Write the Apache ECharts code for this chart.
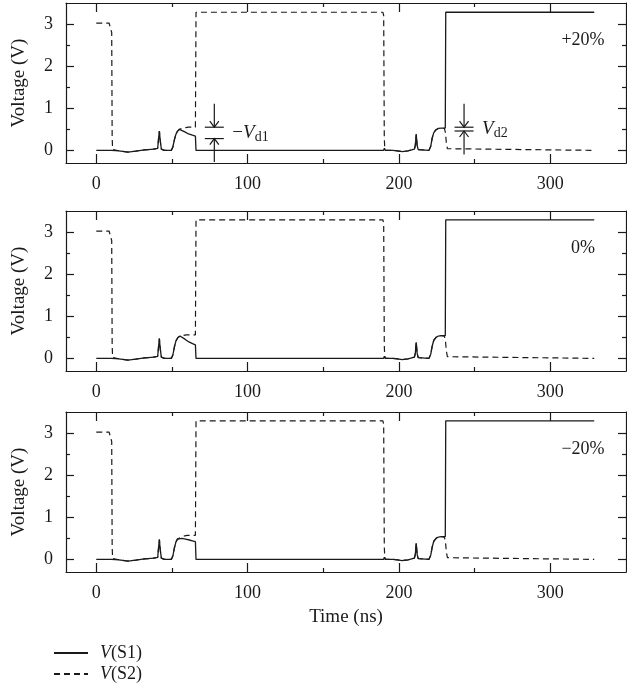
<!DOCTYPE html>
<html>
<head>
<meta charset="utf-8">
<script src="https://cdn.jsdelivr.net/npm/echarts@6/dist/echarts.min.js"></script>
<style>
  html, body { margin: 0; padding: 0; background: #fff; }
  #chart { width: 627px; height: 694px; }
</style>
</head>
<body>
<div id="chart"></div>
<script>
// Switch voltages V(S1) and V(S2) for three parameter variations (+20 %, 0 %, -20 %).
// Each trace is a list of [time (ns), voltage (V)] samples.

const S1_PLUS20 = [[0,0],[10,0],[15,-0.01],[21,-0.04],[26,-0.02],[32,0.01],[38,0.03],[40.6,0.05],[41.2,0.3],[41.7,0.46],[42.2,0.25],[43,0.03],[45,0],[49.6,0],[50.6,0.08],[51.6,0.25],[52.6,0.38],[53.6,0.45],[54.9,0.5],[56.2,0.49],[58.5,0.44],[61,0.39],[63.5,0.36],[65.5,0.34],[65.9,0],[189.8,0],[190.4,0.05],[191,0],[196,0],[199,-0.01],[202,-0.03],[206,-0.01],[210.2,0.03],[210.8,0.12],[211.4,0.38],[212,0.12],[212.7,0.02],[214,0],[219.8,0],[221,0.1],[222,0.3],[223,0.42],[224.5,0.49],[226,0.52],[228,0.53],[230.6,0.53],[230.9,3.28],[329,3.28]];
const S2_PLUS20 = [[0,3.02],[8.5,3.02],[9.6,2.98],[10.2,2.8],[10.5,0.3],[10.8,0.02],[11.5,0],[15,-0.01],[21,-0.04],[26,-0.02],[32,0.01],[38,0.03],[40.6,0.05],[41.2,0.3],[41.7,0.46],[42.2,0.25],[43,0.03],[45,0],[49.6,0],[50.6,0.08],[51.6,0.25],[52.6,0.38],[53.6,0.45],[54.9,0.5],[56.5,0.52],[59,0.54],[61,0.55],[65.5,0.55],[65.9,3.28],[189.4,3.28],[189.9,3.2],[190.3,0.3],[190.6,0.05],[191,0],[196,0],[199,-0.01],[202,-0.03],[206,-0.01],[210.2,0.03],[210.8,0.12],[211.4,0.38],[212,0.12],[212.7,0.02],[214,0],[219.8,0],[221,0.1],[222,0.3],[223,0.42],[224.5,0.49],[226,0.52],[228,0.53],[230,0.52],[230.7,0.42],[231.3,0.18],[232,0.04],[233,0],[329,0]];

const S1_ZERO = [[0,0],[10,0],[15,-0.01],[21,-0.04],[26,-0.02],[32,0.01],[38,0.03],[40.6,0.05],[41.2,0.3],[41.7,0.47],[42.2,0.25],[43,0.03],[45,0],[49.6,0],[50.6,0.08],[51.6,0.27],[52.6,0.41],[53.8,0.49],[55.3,0.53],[56.6,0.51],[58.8,0.45],[61.2,0.39],[63.6,0.35],[65.5,0.32],[65.9,0],[189.8,0],[190.4,0.05],[191,0],[196,0],[199,-0.01],[202,-0.03],[206,-0.01],[210.2,0.03],[210.8,0.12],[211.4,0.38],[212,0.12],[212.7,0.02],[214,0],[219.8,0],[221,0.1],[222,0.3],[223,0.43],[224.5,0.5],[226,0.53],[228,0.54],[230.6,0.54],[230.9,3.29],[329,3.29]];
const S2_ZERO = [[0,3.02],[8.5,3.02],[9.6,2.98],[10.2,2.8],[10.5,0.3],[10.8,0.02],[11.5,0],[15,-0.01],[21,-0.04],[26,-0.02],[32,0.01],[38,0.03],[40.6,0.05],[41.2,0.3],[41.7,0.47],[42.2,0.25],[43,0.03],[45,0],[49.6,0],[50.6,0.08],[51.6,0.27],[52.6,0.41],[53.8,0.49],[55.3,0.53],[57,0.54],[59.5,0.56],[61,0.56],[65.5,0.56],[65.9,3.29],[189.4,3.29],[189.9,3.2],[190.3,0.3],[190.6,0.05],[191,0],[196,0],[199,-0.01],[202,-0.03],[206,-0.01],[210.2,0.03],[210.8,0.12],[211.4,0.38],[212,0.12],[212.7,0.02],[214,0],[219.8,0],[221,0.1],[222,0.3],[223,0.43],[224.5,0.5],[226,0.53],[228,0.54],[230,0.53],[230.7,0.42],[231.3,0.18],[232,0.04],[233,0],[329,0]];

const S1_MINUS20 = [[0,0],[10,0],[15,-0.01],[21,-0.04],[26,-0.02],[32,0.01],[38,0.03],[40.6,0.05],[41.2,0.3],[41.7,0.47],[42.2,0.25],[43,0.03],[45,0],[49.6,0],[50.6,0.08],[51.6,0.27],[52.6,0.41],[53.6,0.48],[54.6,0.51],[56.5,0.5],[59,0.48],[61.5,0.46],[63.5,0.44],[65.5,0.42],[65.9,0],[189.8,0],[190.4,0.05],[191,0],[196,0],[199,-0.01],[202,-0.03],[206,-0.01],[210.2,0.03],[210.8,0.12],[211.4,0.38],[212,0.12],[212.7,0.02],[214,0],[219.8,0],[221,0.1],[222,0.3],[223,0.43],[224.5,0.5],[226,0.53],[228,0.54],[230.6,0.54],[230.9,3.29],[329,3.29]];
const S2_MINUS20 = [[0,3.02],[8.5,3.02],[9.6,2.98],[10.2,2.8],[10.5,0.3],[10.8,0.02],[11.5,0],[15,-0.01],[21,-0.04],[26,-0.02],[32,0.01],[38,0.03],[40.6,0.05],[41.2,0.3],[41.7,0.47],[42.2,0.25],[43,0.03],[45,0],[49.6,0],[50.6,0.08],[51.6,0.27],[52.6,0.41],[53.6,0.48],[54.6,0.51],[56.5,0.53],[58.5,0.56],[60,0.57],[65.5,0.57],[65.9,3.29],[189.4,3.29],[189.9,3.2],[190.3,0.3],[190.6,0.05],[191,0],[196,0],[199,-0.01],[202,-0.03],[206,-0.01],[210.2,0.03],[210.8,0.12],[211.4,0.38],[212,0.12],[212.7,0.02],[214,0],[219.8,0],[221,0.1],[222,0.3],[223,0.43],[224.5,0.5],[226,0.53],[228,0.54],[230,0.53],[230.7,0.42],[231.3,0.18],[232,0.04],[233,0],[329,0]];

// Panel captions and the traces drawn in each panel (top to bottom)
const PANEL_LABELS = ['+20%', '0%', '\u221220%'];
const PANEL_S1 = [S1_PLUS20, S1_ZERO, S1_MINUS20];
const PANEL_S2 = [S2_PLUS20, S2_ZERO, S2_MINUS20];

// Tick positions
const X_MAJOR = [0, 100, 200, 300];
const X_MINOR = [50, 150, 250];
const Y_MAJOR = [0, 1, 2, 3];
const Y_MINOR = [0.5, 1.5, 2.5];

// Dimension markers in the top panel: time, lower level, upper level, label parts
const MARKER_T = [78, 243];
const MARKER_LOW = [0.28, 0.46];
const MARKER_HIGH = [0.55, 0.55];
const MARKER_SIGN = ['\u2212', ''];
const MARKER_SUB = ['d1', 'd2'];

const FONT = '"Liberation Serif", "DejaVu Serif", serif';
const INK = '#1a1a1a';
const X_MIN = -20, X_MAX = 350, Y_MIN = -0.3, Y_MAX = 3.5;
const GRID_TOPS = [3, 211, 412];
const GRID_H = 160;

const chart = echarts.init(document.getElementById('chart'), null, { renderer: 'canvas' });

const grids = [], xAxes = [], yAxes = [], series = [], graphics = [];

function makeX(grid, position, ticks, len, showLine, showLabel, extra) {
  return Object.assign({
    type: 'value', gridIndex: grid, position: position, min: X_MIN, max: X_MAX,
    axisLine: { show: showLine, onZero: false, lineStyle: { color: INK, width: 1.2 } },
    axisTick: { show: true, inside: true, length: len, customValues: ticks, lineStyle: { color: INK, width: 1.2 } },
    axisLabel: { show: showLabel, customValues: X_MAJOR, margin: 12, color: INK, fontFamily: FONT, fontSize: 18 },
    splitLine: { show: false }
  }, extra || {});
}
function makeY(grid, position, ticks, len, showLine, showLabel, extra) {
  return Object.assign({
    type: 'value', gridIndex: grid, position: position, min: Y_MIN, max: Y_MAX,
    axisLine: { show: showLine, onZero: false, lineStyle: { color: INK, width: 1.2 } },
    axisTick: { show: true, inside: true, length: len, customValues: ticks, lineStyle: { color: INK, width: 1.2 } },
    axisLabel: { show: showLabel, customValues: Y_MAJOR, margin: 13, color: INK, fontFamily: FONT, fontSize: 18 },
    splitLine: { show: false }
  }, extra || {});
}

PANEL_S1.forEach(function (s1, i) {
  grids.push({ left: 66, right: 1, top: GRID_TOPS[i], height: GRID_H });
  const isLast = i === PANEL_S1.length - 1;
  const xName = isLast ? {
    name: 'Time (ns)', nameLocation: 'middle', nameGap: 36,
    nameTextStyle: { fontFamily: FONT, fontSize: 19, color: INK }
  } : {};
  xAxes.push(makeX(i, 'bottom', X_MAJOR, 9, true, true, xName));
  xAxes.push(makeX(i, 'bottom', X_MINOR, 4, false, false));
  xAxes.push(makeX(i, 'top', X_MAJOR, 9, true, false));
  xAxes.push(makeX(i, 'top', X_MINOR, 4, false, false));

  yAxes.push(makeY(i, 'left', Y_MAJOR, 8, true, true, {
    name: 'Voltage (V)', nameLocation: 'middle', nameGap: 37,
    nameTextStyle: { fontFamily: FONT, fontSize: 19, color: INK }
  }));
  yAxes.push(makeY(i, 'left', Y_MINOR, 4, false, false));
  yAxes.push(makeY(i, 'right', Y_MAJOR, 8, true, false));
  yAxes.push(makeY(i, 'right', Y_MINOR, 4, false, false));

  const ax = i * 4;
  series.push({
    name: 'S2', type: 'line', xAxisIndex: ax, yAxisIndex: ax, data: PANEL_S2[i],
    symbol: 'none', smooth: false, animation: false, z: 2,
    itemStyle: { color: INK },
    lineStyle: { color: INK, width: 1.2, type: [6, 4] }
  });
  series.push({
    name: 'S1', type: 'line', xAxisIndex: ax, yAxisIndex: ax, data: s1,
    symbol: 'none', smooth: false, animation: false, z: 3,
    itemStyle: { color: INK },
    lineStyle: { color: INK, width: 1.3, type: 'solid' }
  });

  graphics.push({
    type: 'text', x: 583, y: GRID_TOPS[i] + 37,
    style: { text: PANEL_LABELS[i], fill: INK, font: '18px ' + FONT, align: 'center', verticalAlign: 'middle' }
  });
});

// Dimension arrows (V_d1, V_d2) drawn in data coordinates of the top panel
series.push({
  type: 'custom', xAxisIndex: 0, yAxisIndex: 0, animation: false, silent: true, z: 4,
  data: MARKER_T.map(function (t, k) { return [t, MARKER_LOW[k], MARKER_HIGH[k]]; }),
  renderItem: function (params, api) {
    const k = params.dataIndex;
    const pHi = api.coord([api.value(0), api.value(2)]);
    const pLo = api.coord([api.value(0), api.value(1)]);
    const x = pHi[0], yH = pHi[1], yL = pLo[1];
    const lead = 23.5, hw = 9.5, aw = 4.5, ah = 6;
    const st = { stroke: INK, lineWidth: 1.2, fill: null };
    return {
      type: 'group',
      children: [
        { type: 'line', shape: { x1: x, y1: yH - lead, x2: x, y2: yH }, style: st },
        { type: 'polyline', shape: { points: [[x - aw, yH - ah], [x, yH], [x + aw, yH - ah]] }, style: st },
        { type: 'line', shape: { x1: x - hw, y1: yH, x2: x + hw, y2: yH }, style: st },
        { type: 'line', shape: { x1: x - hw, y1: yL, x2: x + hw, y2: yL }, style: st },
        { type: 'line', shape: { x1: x, y1: yL, x2: x, y2: yL + lead }, style: st },
        { type: 'polyline', shape: { points: [[x - aw, yL + ah], [x, yL], [x + aw, yL + ah]] }, style: st },
        {
          type: 'text',
          style: {
            x: x + 18, y: (yH + yL) / 2,
            text: '{m|' + MARKER_SIGN[k] + '}{v|V}{s|' + MARKER_SUB[k] + '}',
            align: 'left', verticalAlign: 'middle', fill: INK,
            rich: {
              m: { fontFamily: FONT, fontSize: 19, lineHeight: 22, verticalAlign: 'middle', fill: INK },
              v: { fontFamily: FONT, fontSize: 19, fontStyle: 'italic', lineHeight: 22, verticalAlign: 'middle', fill: INK },
              s: { fontFamily: FONT, fontSize: 14, lineHeight: 12, verticalAlign: 'bottom', fill: INK }
            }
          }
        }
      ]
    };
  }
});

chart.setOption({
  backgroundColor: '#fff',
  animation: false,
  grid: grids,
  xAxis: xAxes,
  yAxis: yAxes,
  series: series,
  graphic: graphics,
  legend: {
    orient: 'vertical', left: 48, top: 639, itemWidth: 34, itemHeight: 10, itemGap: 3,
    data: ['S1', 'S2'], selectedMode: false,
    itemStyle: { opacity: 0 },
    lineStyle: { color: INK },
    formatter: function (name) { return '{g|}{i|V}(' + name + ')'; },
    textStyle: {
      fontFamily: FONT, fontSize: 18, color: INK,
      rich: {
        g: { width: 7 },
        i: { fontFamily: FONT, fontSize: 18, fontStyle: 'italic', color: INK }
      }
    }
  }
});
</script>
</body>
</html>
